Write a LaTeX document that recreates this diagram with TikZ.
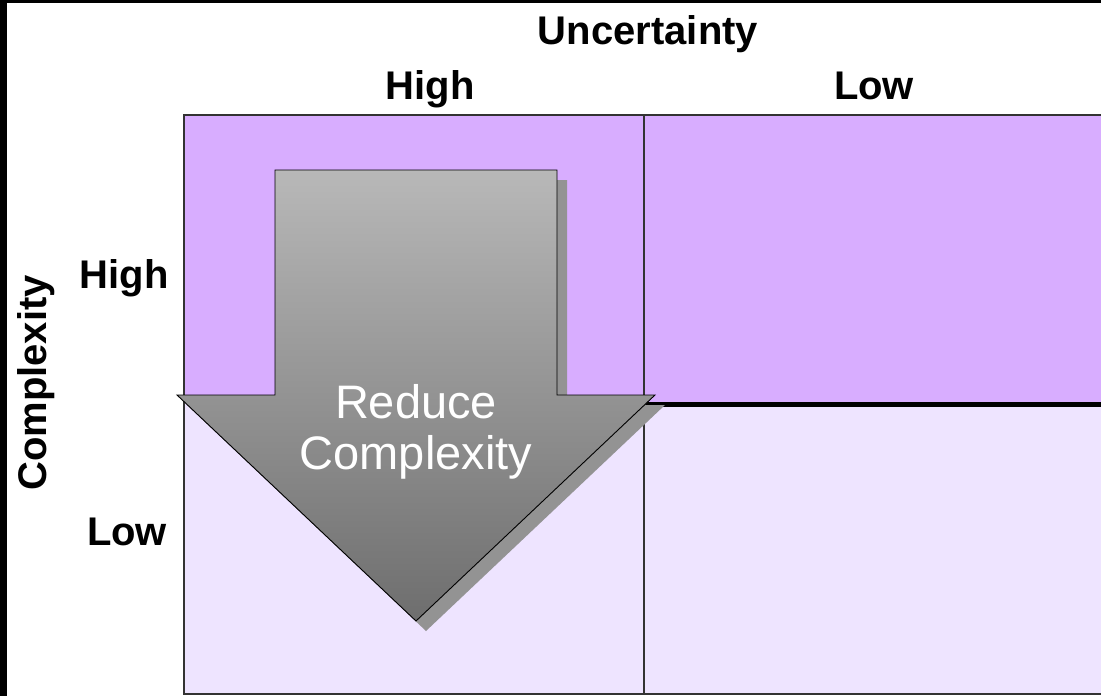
\documentclass[tikz,border=0pt]{standalone}
\usepackage{fontspec}
\setmainfont{Liberation Sans}

\definecolor{hiviolet}{HTML}{D8ADFF}
\definecolor{loviolet}{HTML}{EEE4FF}
\definecolor{gridline}{HTML}{333333}
\definecolor{arrowtop}{HTML}{B8B8B8}
\definecolor{arrowbottom}{HTML}{6E6E6E}
\definecolor{arrowshadow}{HTML}{939393}

\begin{document}
\begin{tikzpicture}[x=1pt, y=-1pt,
        lbl/.style={font=\fontsize{40}{40}\selectfont\bfseries, anchor=base},
        cell/.style={draw=gridline, line width=1.3pt}]
    \useasboundingbox ( 0, 0 ) rectangle ( 1101, 696 );
    \fill [white] ( 0, 0 ) rectangle ( 1101, 696 );
    \fill [black] ( 0, 0 ) rectangle ( 1101, 3 );
    \fill [black] ( 0, 0 ) rectangle ( 7, 696 );

    % клетки
    \path [cell, fill=hiviolet] ( 184, 115 ) rectangle ( 644, 400 );
    \path [cell, fill=hiviolet] ( 644, 115 ) rectangle ( 1110, 404 );
    \path [cell, fill=loviolet] ( 184, 400 ) rectangle ( 644, 694 );
    \path [cell, fill=loviolet] ( 644, 404 ) rectangle ( 1110, 694 );
    \draw [line width=5pt] ( 646, 404.5 ) -- ( 1110, 404.5 );

    % стрелка
    \path [fill=arrowshadow] ( 285, 180 ) -- ( 567, 180 ) -- ( 567, 405 ) -- ( 665, 405 )
        -- ( 426, 631 ) -- ( 187, 405 ) -- ( 285, 405 ) -- cycle;
    \path [draw=black, line width=0.9pt, top color=arrowtop, bottom color=arrowbottom]
        ( 275, 170 ) -- ( 557, 170 ) -- ( 557, 395 ) -- ( 655, 395 )
        -- ( 416, 621 ) -- ( 177, 395 ) -- ( 275, 395 ) -- cycle;
    \node [white, align=center, font=\fontsize{47}{51}\selectfont] (reduce) at ( 416, 432 )
        {Reduce\\Complexity};

    % подписи
    \node [lbl] (unc) at ( 648, 44 ) {Uncertainty};
    \node [lbl] (uhigh) at ( 430, 99 ) {High};
    \node [lbl] (ulow) at ( 874, 99 ) {Low};
    \node [lbl] (chigh) at ( 124, 288 ) {High};
    \node [lbl] (clow) at ( 127, 545 ) {Low};
    \node [lbl, anchor=center, rotate=90] (cplx) at ( 36, 383 ) {Complexity};
\end{tikzpicture}
\end{document}
